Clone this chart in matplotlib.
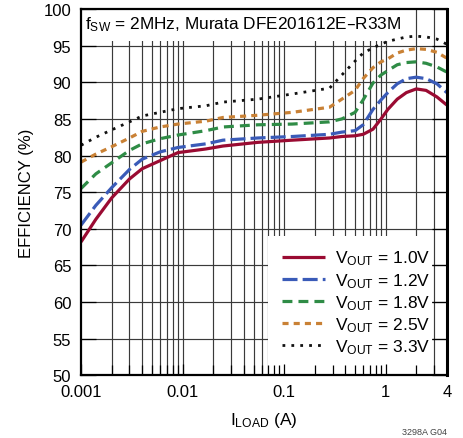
import matplotlib
matplotlib.use('Agg')
import matplotlib.pyplot as plt
from matplotlib.patches import Rectangle
import numpy as np

plt.rcParams['font.family'] = ['Liberation Sans Narrow', 'Liberation Sans', 'DejaVu Sans']
plt.rcParams['mathtext.default'] = 'regular'

# load current (A)
i_load = [0.001, 0.0014, 0.002, 0.003, 0.004, 0.006, 0.009, 0.017, 0.025, 0.055,
          0.12, 0.28, 0.37, 0.5, 0.6, 0.75, 0.9, 1.05, 1.3, 1.6, 2.0, 2.5, 3.2, 4.0]

eff_1v0 = [68.2, 71.3, 74.2, 76.8, 78.2, 79.3, 80.4, 80.9, 81.3, 81.8,
           82.1, 82.4, 82.6, 82.7, 82.9, 83.6, 85.0, 86.3, 87.7, 88.6, 89.1, 88.9, 88.0, 86.9]
eff_1v2 = [70.5, 73.2, 75.6, 78.1, 79.5, 80.5, 81.1, 81.6, 82.1, 82.4,
           82.6, 82.9, 83.2, 83.4, 84.2, 86.3, 87.6, 88.6, 89.8, 90.5, 90.7, 90.5, 89.8, 88.6]
eff_1v8 = [75.5, 77.5, 79.0, 80.7, 81.6, 82.3, 82.8, 83.4, 83.9, 84.2,
           84.3, 84.6, 85.0, 85.9, 87.6, 89.9, 91.0, 91.6, 92.4, 92.7, 92.8, 92.6, 92.1, 91.4]
eff_2v5 = [79.1, 80.2, 81.2, 82.4, 83.3, 83.9, 84.3, 84.7, 85.2, 85.5,
           85.9, 86.6, 87.7, 88.9, 90.5, 92.0, 92.8, 93.2, 94.0, 94.4, 94.6, 94.5, 94.1, 93.3]
eff_3v3 = [81.4, 82.5, 83.5, 84.6, 85.4, 85.9, 86.4, 86.8, 87.3, 87.7,
           88.4, 89.2, 91.0, 92.9, 94.0, 94.7, 95.2, 95.6, 95.9, 96.2, 96.3, 96.2, 95.9, 95.2]

labels = ['1.0V', '1.2V', '1.8V', '2.5V', '3.3V']
yticks = [50, 55, 60, 65, 70, 75, 80, 85, 90, 95, 100]
xticks = [0.001, 0.01, 0.1, 1, 4]
xticklabels = ['0.001', '0.01', '0.1', '1', '4']

fig = plt.figure(figsize=(4.63, 4.39), dpi=100)
ax = fig.add_axes([0.175, 0.143, 0.790, 0.834])
ax.set_xscale('log')
ax.set_xlim(0.001, 4)
ax.set_ylim(50, 100)

# grid, drawn by hand so the white boxes can hide parts of it
gridc = '#3a3a3a'
for y in yticks[1:-1]:
    ax.axhline(y, color=gridc, lw=0.85, zorder=0.8)
for dec in [0.001, 0.01, 0.1, 1]:
    for m in range(1, 10):
        xv = dec * m
        if 0.001 < xv < 4:
            ax.axvline(xv, color=gridc, lw=0.85, zorder=0.8)

# white areas behind the title text and the legend
ax.add_patch(Rectangle((0, 0.913), 0.885, 0.087, transform=ax.transAxes,
                       facecolor='white', edgecolor='none', zorder=1.0))
ax.add_patch(Rectangle((0.511, 0), 0.448, 0.380, transform=ax.transAxes,
                       facecolor='white', edgecolor='none', zorder=1.0))

styles = [
    dict(color='#9a0b32', ls='-', lw=2.3),
    dict(color='#3a5bb8', ls=(0, (4.7, 1.6)), lw=2.3),
    dict(color='#2f8c46', ls=(0, (3.1, 1.9)), lw=2.3),
    dict(color='#c98135', ls=(0, (1.9, 1.6)), lw=2.3),
    dict(color='#111111', ls=(0, (1.0, 2.2)), lw=2.0),
]
series = [eff_1v0, eff_1v2, eff_1v8, eff_2v5, eff_3v3]
for eff, lab, st in zip(series, labels, styles):
    ax.plot(i_load, eff, zorder=2, solid_capstyle='butt', dash_capstyle='butt',
            label='V$_{OUT}$ = ' + lab, **st)

ax.set_xticks(xticks)
ax.set_xticklabels(xticklabels)
ax.set_yticks(yticks)
ax.tick_params(axis='both', which='both', direction='in', labelsize=12,
               top=False, right=True, color='black', width=0.9)
ax.tick_params(axis='x', which='major', length=8, pad=6)
ax.tick_params(axis='x', which='minor', length=7.5)
ax.tick_params(axis='y', which='major', length=11, pad=7)
ax.tick_params(axis='y', which='minor', left=False, right=False)
for s in ax.spines.values():
    s.set_linewidth(1.6)
ax.spines['right'].set_linewidth(2.2)

ax.set_ylabel('EFFICIENCY (%)', fontsize=12, labelpad=7)
ax.set_xlabel('I$_{LOAD}$ (A)', fontsize=12.5, labelpad=8)

ax.text(0.011, 0.985, 'f$_{SW}$ = 2MHz, Murata DFE201612E\u2013R33M',
        transform=ax.transAxes, ha='left', va='top', fontsize=12.4, zorder=3)

leg = ax.legend(loc='lower right', bbox_to_anchor=(0.955, 0.052), frameon=False,
                fontsize=12.5, handlelength=2.5, handletextpad=0.55,
                labelspacing=0.2, borderaxespad=0, borderpad=0)
leg.set_zorder(3)

fig.text(0.965, 0.004, '3298A G04', ha='right', va='bottom', fontsize=6.5, color='#444444')

fig.savefig('out.png', dpi=100)
